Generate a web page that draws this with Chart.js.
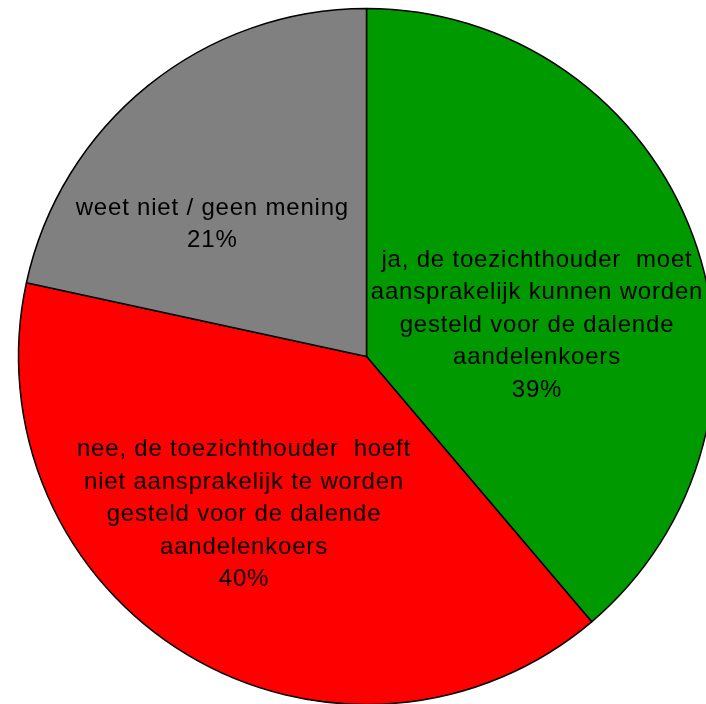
<!DOCTYPE html>
<html>
<head>
<meta charset="utf-8">
<script src="https://cdn.jsdelivr.net/npm/chart.js@4/dist/chart.umd.min.js"></script>
<style>
  html, body { margin: 0; padding: 0; background: #fff; overflow: hidden; }
  #wrap { width: 706px; height: 704px; overflow: hidden; position: relative; }
  canvas { position: absolute; left: 0; top: 0; }
</style>
</head>
<body>
<div id="wrap"><canvas id="pie" width="733" height="713"></canvas></div>
<script>
const categories = [
  ["ja, de toezichthouder  moet", "aansprakelijk kunnen worden", "gesteld voor de dalende", "aandelenkoers"],
  ["nee, de toezichthouder  hoeft", "niet aansprakelijk te worden", "gesteld voor de dalende", "aandelenkoers"],
  ["weet niet / geen mening"],
];
// slice sizes as measured from the angles in the picture
const shares = [38.8, 39.6, 21.6];
const percentLabels = ["39%", "40%", "21%"];
const sliceColors = ["#009900", "#ff0000", "#808080"];

// label centre relative to pie centre, as a fraction of the radius
const labelOffsets = [
  [0.49, -0.09],
  [-0.352, 0.455],
  [-0.443, -0.38],
];

const sliceLabels = {
  id: "sliceLabels",
  afterDatasetsDraw(chart) {
    const arc = chart.getDatasetMeta(0).data[0];
    const { x: cx, y: cy, outerRadius: r } = arc.getProps(["x", "y", "outerRadius"], true);
    const ctx = chart.ctx;
    const lineH = 32.5;
    ctx.save();
    ctx.font = "24px 'Liberation Sans', Arial, sans-serif";
    ctx.letterSpacing = "0.8px";
    ctx.fillStyle = "#000";
    ctx.textAlign = "center";
    ctx.textBaseline = "middle";
    categories.forEach((lines, i) => {
      const all = lines.concat([percentLabels[i]]);
      const x = cx + labelOffsets[i][0] * r;
      const y = cy + labelOffsets[i][1] * r;
      const top = y - ((all.length - 1) * lineH) / 2;
      all.forEach((t, j) => ctx.fillText(t, x, top + j * lineH));
    });
    ctx.restore();
  },
};

new Chart(document.getElementById("pie"), {
  type: "pie",
  data: {
    labels: categories.map((c) => c.join(" ")),
    datasets: [{
      data: shares,
      backgroundColor: sliceColors,
      borderColor: "#000",
      borderWidth: 1.5,
      radius: 348,
    }],
  },
  options: {
    responsive: false,
    animation: false,
    devicePixelRatio: 1,
    layout: { padding: 0 },
    plugins: { legend: { display: false }, tooltip: { enabled: false } },
  },
  plugins: [sliceLabels],
});
</script>
</body>
</html>
